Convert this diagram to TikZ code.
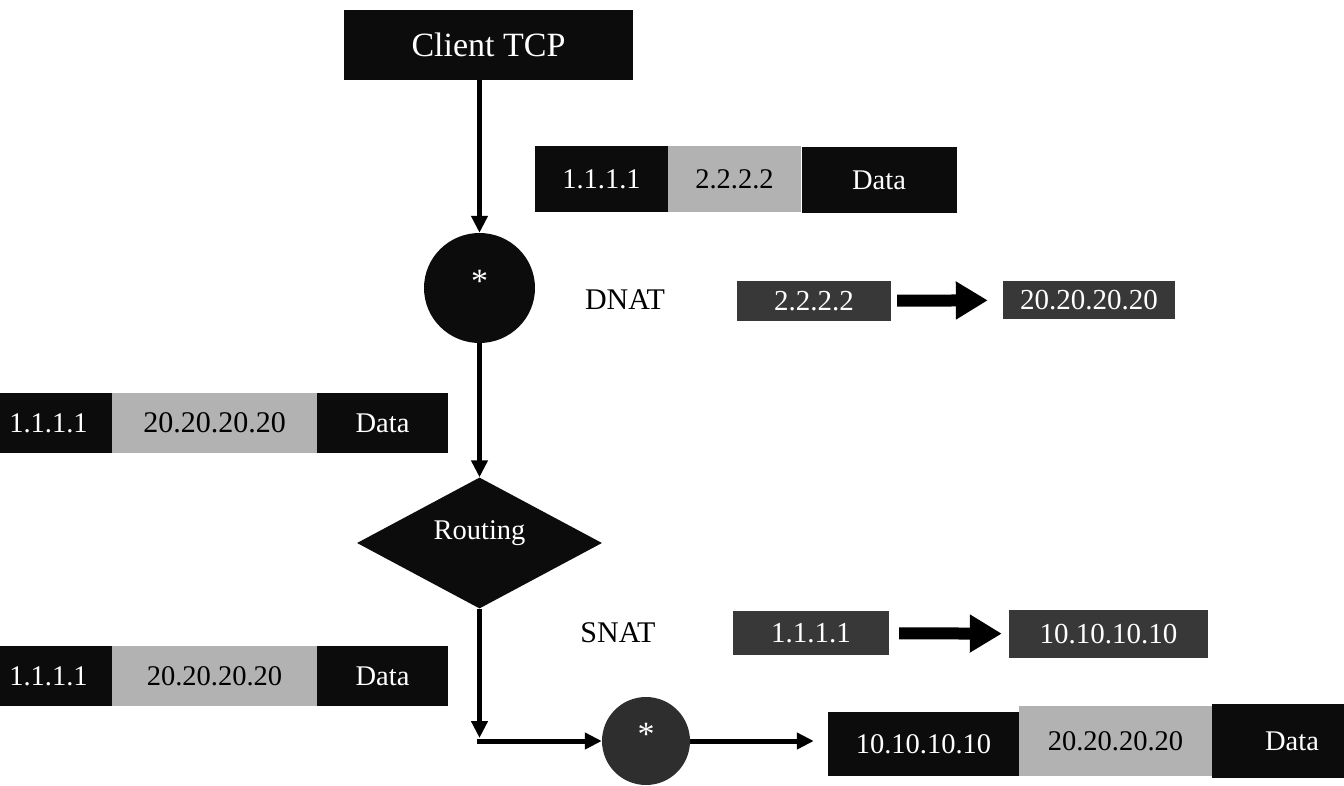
\documentclass[tikz,border=0pt]{standalone}
\usepackage{fontspec}
\setmainfont{Liberation Serif}
\usetikzlibrary{shapes.geometric,arrows.meta}
\definecolor{blackfill}{HTML}{0C0C0C}
\definecolor{darkfill}{HTML}{383838}
\definecolor{lightfill}{HTML}{B2B2B2}
\definecolor{circfill}{HTML}{2E2E2E}
\tikzset{
  fnt/.style={font=\fontsize{#1}{#1}\selectfont},
  blkbox/.style={fill=blackfill, text=white, inner sep=0pt, fnt=28.5},
  litbox/.style={fill=lightfill, text=black, inner sep=0pt, fnt=28.5},
  natbox/.style={fill=darkfill, text=white, inner sep=0pt, fnt=29},
  conn/.style={line width=5pt, -{Triangle[length=17pt,width=16pt]}},
  bigarrow/.style={line width=12pt, -{Triangle[length=32pt,width=36pt]}},
  lbl/.style={text=black, inner sep=0pt, fnt=30},
  star/.style={text=white, inner sep=0pt, fnt=34},
}
\begin{document}
\begin{tikzpicture}[x=1pt,y=-1pt]
\useasboundingbox (0,0) rectangle (1344,786);
\clip (0,0) rectangle (1344,786);
% client
\node[blkbox, fnt=34, minimum width=289pt, minimum height=70pt] (client) at (488.5,45) {Client TCP};
% top circle
\node[ellipse, fill=blackfill, minimum width=111pt, minimum height=110pt, inner sep=0pt] (c1) at (479.5,288) {};
\node[star] (c1s) at (479.5,281) {*};
% top packet
\node[blkbox, minimum width=133pt, minimum height=66pt] (p1a) at (601.5,179) {1.1.1.1};
\node[litbox, minimum width=133pt, minimum height=66pt] (p1b) at (734.5,179) {2.2.2.2};
\node[blkbox, minimum width=155pt, minimum height=66pt] (p1c) at (879,180) {Data};
% DNAT
\node[lbl] (dnat) at (625,300) {DNAT};
\node[natbox, minimum width=154pt, minimum height=40pt] (d1) at (814,301) {2.2.2.2};
\node[natbox, minimum width=172pt, minimum height=38pt] (d2) at (1089,300) {20.20.20.20};
\draw[bigarrow, shorten <=6pt, shorten >=15pt] (d1) -- (d2);
% left packet 1
\node[blkbox, minimum width=127pt, minimum height=60pt] (q1a) at (48.5,423) {1.1.1.1};
\node[litbox, fnt=30, minimum width=205pt, minimum height=60pt] (q1b) at (214.5,423) {20.20.20.20};
\node[blkbox, minimum width=131pt, minimum height=60pt] (q1c) at (382.5,423) {Data};
% routing diamond
\node[diamond, fill=blackfill, minimum width=245pt, minimum height=131pt, inner sep=0pt] (route) at (479.5,543) {};
\node[text=white, fnt=28.5, inner sep=0pt] (routet) at (479.5,533) {Routing};
% SNAT
\node[lbl] (snat) at (618,633) {SNAT};
\node[natbox, minimum width=156pt, minimum height=44pt] (s1) at (811,633) {1.1.1.1};
\node[natbox, minimum width=199pt, minimum height=48pt] (s2) at (1108.5,634) {10.10.10.10};
\draw[bigarrow, shorten <=10pt, shorten >=7pt] (s1) -- (s2);
% left packet 2
\node[blkbox, minimum width=127pt, minimum height=60pt] (q2a) at (48.5,676) {1.1.1.1};
\node[litbox, minimum width=205pt, minimum height=60pt] (q2b) at (214.5,676) {20.20.20.20};
\node[blkbox, minimum width=131pt, minimum height=60pt] (q2c) at (382.5,676) {Data};
% bottom circle
\node[circle, fill=circfill, minimum size=88pt, inner sep=0pt] (c2) at (646,741) {};
\node[star] (c2s) at (646,734) {*};
\coordinate (corner) at (479.5,741);
% bottom packet
\node[blkbox, minimum width=191pt, minimum height=64pt] (r1a) at (923.5,744) {10.10.10.10};
\node[litbox, minimum width=193pt, minimum height=70pt] (r1b) at (1115.5,741) {20.20.20.20};
\node[blkbox, minimum width=160pt, minimum height=74pt] (r1c) at (1292,741) {Data};
% connectors
\draw[conn] (client.south -| c1.north) -- (c1.north);
\draw[conn] (c1.south) -- (route.north);
\draw[conn, shorten >=3pt] (route.south) -- (corner);
\draw[conn] ([xshift=-2.5pt]corner) -- (c2.west);
\draw[conn, shorten >=14pt] (c2.east) -- (c2.east -| r1a.west);
\end{tikzpicture}
\end{document}
